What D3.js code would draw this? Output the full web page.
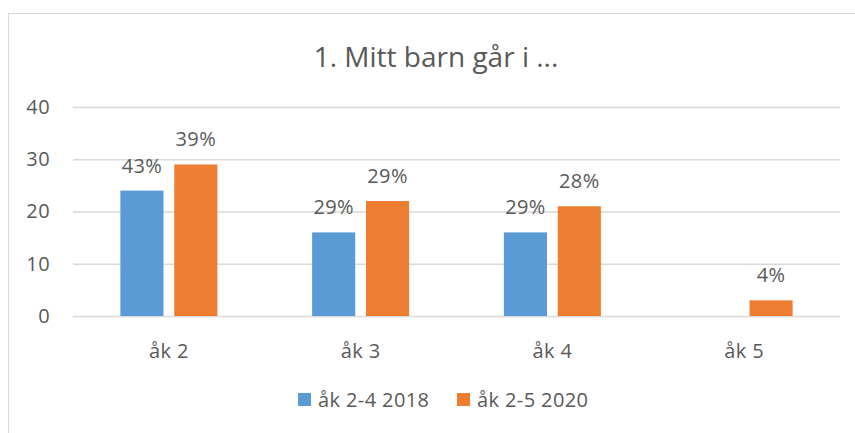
<!DOCTYPE html>
<html>
<head>
<meta charset="utf-8">
<script src="https://cdn.jsdelivr.net/npm/d3@7"></script>
<style>
  html, body { margin: 0; padding: 0; background: #fff; }
  svg { display: block; font-family: "Open Sans", Lato, sans-serif; }
</style>
</head>
<body>
<div id="chart"></div>
<script>
// Data
const categories = ["åk 2", "åk 3", "åk 4", "åk 5"];
const seriesNames = ["åk 2-4 2018", "åk 2-5 2020"];
const values2018 = [24, 16, 16, null];
const values2020 = [29, 22, 21, 3];
const labels2018 = ["43%", "29%", "29%", ""];
const labels2020 = ["39%", "29%", "28%", "4%"];
const yTicks = [0, 10, 20, 30, 40];
const colors = ["#5b9bd5", "#ed7d31"];

const width = 855;
const height = 433;
const margin = { top: 107, right: 15, bottom: 117, left: 73 };
const textColor = "#595959";
const gridColor = "#d9d9d9";
const fontSize = 20;
const spacing = 0.4;

const svg = d3.select("#chart").append("svg")
  .attr("width", width)
  .attr("height", height);

// chart frame (runs off the right and bottom edges)
svg.append("rect")
  .attr("x", 8.5).attr("y", 13.5)
  .attr("width", 1000).attr("height", 1000)
  .attr("fill", "none")
  .attr("stroke", gridColor);

svg.append("text")
  .attr("x", 436).attr("y", 67)
  .attr("text-anchor", "middle")
  .attr("font-size", 28)
  .attr("fill", textColor)
  .text("1. Mitt barn går i ...");

const x = d3.scaleBand()
  .domain(categories)
  .range([margin.left, width - margin.right]);

const groupWidth = 97;
const xSub = d3.scaleBand()
  .domain(d3.range(seriesNames.length))
  .range([(x.bandwidth() - groupWidth) / 2, (x.bandwidth() + groupWidth) / 2])
  .paddingInner(0.2);

const y = d3.scaleLinear()
  .domain([0, 40])
  .range([height - margin.bottom, margin.top]);

// gridlines + tick labels
const yAxis = svg.append("g")
  .attr("transform", `translate(${margin.left},0)`)
  .call(d3.axisLeft(y).tickValues(yTicks).tickSize(-(width - margin.left - margin.right)).tickPadding(23));
yAxis.select(".domain").remove();
yAxis.selectAll(".tick line").attr("stroke", gridColor).attr("stroke-width", 1.3);
yAxis.selectAll(".tick text")
  .attr("font-size", fontSize)
  .attr("font-family", "'Open Sans', sans-serif")
  .attr("letter-spacing", spacing)
  .attr("fill", textColor);

const rows = categories.map((c, i) => ({
  cat: c,
  bars: [
    { s: 0, v: values2018[i], label: labels2018[i] },
    { s: 1, v: values2020[i], label: labels2020[i] }
  ].filter(d => d.v != null)
}));

const group = svg.append("g")
  .selectAll("g")
  .data(rows)
  .join("g")
  .attr("transform", d => `translate(${x(d.cat)},0)`);

group.selectAll("rect")
  .data(d => d.bars)
  .join("rect")
  .attr("x", d => xSub(d.s))
  .attr("width", xSub.bandwidth())
  .attr("y", d => y(d.v))
  .attr("height", d => y(0) - y(d.v))
  .attr("fill", d => colors[d.s]);

group.selectAll("text.lbl")
  .data(d => d.bars)
  .join("text")
  .attr("class", "lbl")
  .attr("x", d => xSub(d.s) + xSub.bandwidth() / 2)
  .attr("y", d => y(d.v) - 18)
  .attr("text-anchor", "middle")
  .attr("font-size", fontSize)
  .attr("letter-spacing", spacing)
  .attr("fill", textColor)
  .text(d => d.label);

// category labels
svg.append("g")
  .selectAll("text")
  .data(categories)
  .join("text")
  .attr("x", d => x(d) + x.bandwidth() / 2)
  .attr("y", y(0) + 42)
  .attr("text-anchor", "middle")
  .attr("font-size", fontSize)
  .attr("letter-spacing", spacing)
  .attr("fill", textColor)
  .text(d => d);

// legend
const legendX = [298, 457];
const legend = svg.append("g")
  .selectAll("g")
  .data(seriesNames)
  .join("g")
  .attr("transform", (d, i) => `translate(${legendX[i]},393)`);

legend.append("rect")
  .attr("width", 13).attr("height", 13)
  .attr("fill", (d, i) => colors[i]);

legend.append("text")
  .attr("x", 20).attr("y", 14)
  .attr("font-size", fontSize)
  .attr("letter-spacing", spacing)
  .attr("fill", textColor)
  .text(d => d);
</script>
</body>
</html>
